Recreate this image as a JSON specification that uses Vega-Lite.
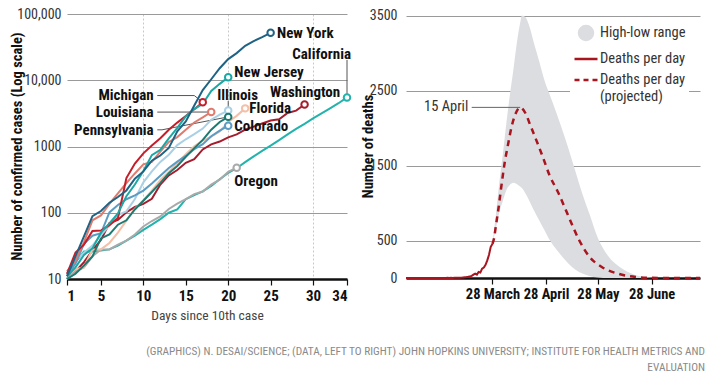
{
  "$schema": "https://vega.github.io/schema/vega-lite/v6.json",
  "padding": {"left": 8, "top": 7, "right": 5, "bottom": 5},
  "background": "white",
  "config": {
    "font": "'Liberation Sans Narrow', 'Roboto Condensed', 'Arial Narrow', sans-serif",
    "view": {"stroke": null},
    "axis": {"labelFont": "'Liberation Sans Narrow', 'Roboto Condensed', 'Arial Narrow', sans-serif", "titleFont": "'Liberation Sans Narrow', 'Roboto Condensed', 'Arial Narrow', sans-serif"},
    "legend": {"labelFont": "'Liberation Sans Narrow', 'Roboto Condensed', 'Arial Narrow', sans-serif"},
    "title": {"font": "'Liberation Sans Narrow', 'Roboto Condensed', 'Arial Narrow', sans-serif"}
  },
  "title": {
    "text": ["(GRAPHICS) N. DESAI/SCIENCE; (DATA, LEFT TO RIGHT) JOHN HOPKINS UNIVERSITY; INSTITUTE FOR HEALTH METRICS AND", "EVALUATION"],
    "orient": "bottom", "anchor": "end", "frame": "bounds", "align": "right",
    "fontSize": 11.3, "fontWeight": "normal", "color": "#8a8a8a", "lineHeight": 16, "offset": 24, "dx": 0
  },
  "datasets": {
    "cases": [
      {"state":"Washington","day":1,"cases":10},{"state":"Washington","day":2,"cases":13},{"state":"Washington","day":3,"cases":18},{"state":"Washington","day":4,"cases":27},{"state":"Washington","day":5,"cases":39},{"state":"Washington","day":6,"cases":70},{"state":"Washington","day":7,"cases":78},{"state":"Washington","day":8,"cases":102},{"state":"Washington","day":9,"cases":122},{"state":"Washington","day":10,"cases":136},{"state":"Washington","day":11,"cases":162},{"state":"Washington","day":12,"cases":267},{"state":"Washington","day":13,"cases":366},{"state":"Washington","day":14,"cases":442},{"state":"Washington","day":15,"cases":568},{"state":"Washington","day":16,"cases":642},{"state":"Washington","day":17,"cases":904},{"state":"Washington","day":18,"cases":1076},{"state":"Washington","day":19,"cases":1187},{"state":"Washington","day":20,"cases":1376},{"state":"Washington","day":21,"cases":1524},{"state":"Washington","day":22,"cases":1793},{"state":"Washington","day":23,"cases":1996},{"state":"Washington","day":24,"cases":2221},{"state":"Washington","day":25,"cases":2469},{"state":"Washington","day":26,"cases":2580},{"state":"Washington","day":27,"cases":3207},{"state":"Washington","day":28,"cases":3477},{"state":"Washington","day":29,"cases":4310},
      {"state":"California","day":1,"cases":10},{"state":"California","day":2,"cases":18},{"state":"California","day":3,"cases":26},{"state":"California","day":4,"cases":26},{"state":"California","day":5,"cases":27},{"state":"California","day":6,"cases":28},{"state":"California","day":7,"cases":32},{"state":"California","day":8,"cases":38},{"state":"California","day":9,"cases":45},{"state":"California","day":10,"cases":55},{"state":"California","day":11,"cases":66},{"state":"California","day":12,"cases":80},{"state":"California","day":13,"cases":100},{"state":"California","day":14,"cases":112},{"state":"California","day":15,"cases":160},{"state":"California","day":16,"cases":185},{"state":"California","day":17,"cases":210},{"state":"California","day":18,"cases":255},{"state":"California","day":19,"cases":320},{"state":"California","day":20,"cases":400},{"state":"California","day":21,"cases":470},{"state":"California","day":22,"cases":580},{"state":"California","day":23,"cases":710},{"state":"California","day":24,"cases":860},{"state":"California","day":25,"cases":1030},{"state":"California","day":26,"cases":1250},{"state":"California","day":27,"cases":1520},{"state":"California","day":28,"cases":1850},{"state":"California","day":29,"cases":2200},{"state":"California","day":30,"cases":2650},{"state":"California","day":31,"cases":3150},{"state":"California","day":32,"cases":3750},{"state":"California","day":33,"cases":4500},{"state":"California","day":34,"cases":5500},
      {"state":"Oregon","day":1,"cases":10},{"state":"Oregon","day":2,"cases":13},{"state":"Oregon","day":3,"cases":15},{"state":"Oregon","day":4,"cases":22},{"state":"Oregon","day":5,"cases":28},{"state":"Oregon","day":6,"cases":28},{"state":"Oregon","day":7,"cases":33},{"state":"Oregon","day":8,"cases":38},{"state":"Oregon","day":9,"cases":47},{"state":"Oregon","day":10,"cases":62},{"state":"Oregon","day":11,"cases":75},{"state":"Oregon","day":12,"cases":88},{"state":"Oregon","day":13,"cases":114},{"state":"Oregon","day":14,"cases":137},{"state":"Oregon","day":15,"cases":161},{"state":"Oregon","day":16,"cases":191},{"state":"Oregon","day":17,"cases":209},{"state":"Oregon","day":18,"cases":266},{"state":"Oregon","day":19,"cases":316},{"state":"Oregon","day":20,"cases":414},{"state":"Oregon","day":21,"cases":479},
      {"state":"Florida","day":1,"cases":12},{"state":"Florida","day":2,"cases":14},{"state":"Florida","day":3,"cases":15},{"state":"Florida","day":4,"cases":28},{"state":"Florida","day":5,"cases":28},{"state":"Florida","day":6,"cases":35},{"state":"Florida","day":7,"cases":50},{"state":"Florida","day":8,"cases":76},{"state":"Florida","day":9,"cases":115},{"state":"Florida","day":10,"cases":155},{"state":"Florida","day":11,"cases":216},{"state":"Florida","day":12,"cases":314},{"state":"Florida","day":13,"cases":417},{"state":"Florida","day":14,"cases":563},{"state":"Florida","day":15,"cases":763},{"state":"Florida","day":16,"cases":1004},{"state":"Florida","day":17,"cases":1227},{"state":"Florida","day":18,"cases":1412},{"state":"Florida","day":19,"cases":1682},{"state":"Florida","day":20,"cases":2355},{"state":"Florida","day":21,"cases":2900},{"state":"Florida","day":22,"cases":3763},
      {"state":"Illinois","day":1,"cases":11},{"state":"Illinois","day":2,"cases":19},{"state":"Illinois","day":3,"cases":25},{"state":"Illinois","day":4,"cases":32},{"state":"Illinois","day":5,"cases":46},{"state":"Illinois","day":6,"cases":64},{"state":"Illinois","day":7,"cases":93},{"state":"Illinois","day":8,"cases":105},{"state":"Illinois","day":9,"cases":161},{"state":"Illinois","day":10,"cases":288},{"state":"Illinois","day":11,"cases":422},{"state":"Illinois","day":12,"cases":585},{"state":"Illinois","day":13,"cases":753},{"state":"Illinois","day":14,"cases":1049},{"state":"Illinois","day":15,"cases":1285},{"state":"Illinois","day":16,"cases":1537},{"state":"Illinois","day":17,"cases":1865},{"state":"Illinois","day":18,"cases":2538},{"state":"Illinois","day":19,"cases":3024},{"state":"Illinois","day":20,"cases":3491},
      {"state":"Colorado","day":1,"cases":12},{"state":"Colorado","day":2,"cases":17},{"state":"Colorado","day":3,"cases":34},{"state":"Colorado","day":4,"cases":45},{"state":"Colorado","day":5,"cases":49},{"state":"Colorado","day":6,"cases":101},{"state":"Colorado","day":7,"cases":131},{"state":"Colorado","day":8,"cases":160},{"state":"Colorado","day":9,"cases":183},{"state":"Colorado","day":10,"cases":216},{"state":"Colorado","day":11,"cases":277},{"state":"Colorado","day":12,"cases":363},{"state":"Colorado","day":13,"cases":475},{"state":"Colorado","day":14,"cases":591},{"state":"Colorado","day":15,"cases":720},{"state":"Colorado","day":16,"cases":912},{"state":"Colorado","day":17,"cases":1086},{"state":"Colorado","day":18,"cases":1430},{"state":"Colorado","day":19,"cases":1734},{"state":"Colorado","day":20,"cases":2061},
      {"state":"Pennsylvania","day":1,"cases":10},{"state":"Pennsylvania","day":2,"cases":12},{"state":"Pennsylvania","day":3,"cases":16},{"state":"Pennsylvania","day":4,"cases":22},{"state":"Pennsylvania","day":5,"cases":41},{"state":"Pennsylvania","day":6,"cases":47},{"state":"Pennsylvania","day":7,"cases":66},{"state":"Pennsylvania","day":8,"cases":77},{"state":"Pennsylvania","day":9,"cases":112},{"state":"Pennsylvania","day":10,"cases":152},{"state":"Pennsylvania","day":11,"cases":206},{"state":"Pennsylvania","day":12,"cases":283},{"state":"Pennsylvania","day":13,"cases":396},{"state":"Pennsylvania","day":14,"cases":509},{"state":"Pennsylvania","day":15,"cases":698},{"state":"Pennsylvania","day":16,"cases":946},{"state":"Pennsylvania","day":17,"cases":1260},{"state":"Pennsylvania","day":18,"cases":1795},{"state":"Pennsylvania","day":19,"cases":2345},{"state":"Pennsylvania","day":20,"cases":2800},
      {"state":"Louisiana","day":1,"cases":13},{"state":"Louisiana","day":2,"cases":19},{"state":"Louisiana","day":3,"cases":36},{"state":"Louisiana","day":4,"cases":77},{"state":"Louisiana","day":5,"cases":91},{"state":"Louisiana","day":6,"cases":136},{"state":"Louisiana","day":7,"cases":196},{"state":"Louisiana","day":8,"cases":280},{"state":"Louisiana","day":9,"cases":392},{"state":"Louisiana","day":10,"cases":538},{"state":"Louisiana","day":11,"cases":585},{"state":"Louisiana","day":12,"cases":837},{"state":"Louisiana","day":13,"cases":1172},{"state":"Louisiana","day":14,"cases":1388},{"state":"Louisiana","day":15,"cases":1795},{"state":"Louisiana","day":16,"cases":2304},{"state":"Louisiana","day":17,"cases":2746},{"state":"Louisiana","day":18,"cases":3315},
      {"state":"Michigan","day":1,"cases":12},{"state":"Michigan","day":2,"cases":25},{"state":"Michigan","day":3,"cases":33},{"state":"Michigan","day":4,"cases":53},{"state":"Michigan","day":5,"cases":54},{"state":"Michigan","day":6,"cases":65},{"state":"Michigan","day":7,"cases":83},{"state":"Michigan","day":8,"cases":334},{"state":"Michigan","day":9,"cases":552},{"state":"Michigan","day":10,"cases":788},{"state":"Michigan","day":11,"cases":1037},{"state":"Michigan","day":12,"cases":1329},{"state":"Michigan","day":13,"cases":1793},{"state":"Michigan","day":14,"cases":2296},{"state":"Michigan","day":15,"cases":2878},{"state":"Michigan","day":16,"cases":3657},{"state":"Michigan","day":17,"cases":4650},
      {"state":"New Jersey","day":1,"cases":11},{"state":"New Jersey","day":2,"cases":15},{"state":"New Jersey","day":3,"cases":23},{"state":"New Jersey","day":4,"cases":29},{"state":"New Jersey","day":5,"cases":50},{"state":"New Jersey","day":6,"cases":69},{"state":"New Jersey","day":7,"cases":98},{"state":"New Jersey","day":8,"cases":178},{"state":"New Jersey","day":9,"cases":267},{"state":"New Jersey","day":10,"cases":427},{"state":"New Jersey","day":11,"cases":742},{"state":"New Jersey","day":12,"cases":890},{"state":"New Jersey","day":13,"cases":1327},{"state":"New Jersey","day":14,"cases":1914},{"state":"New Jersey","day":15,"cases":2844},{"state":"New Jersey","day":16,"cases":3675},{"state":"New Jersey","day":17,"cases":4402},{"state":"New Jersey","day":18,"cases":6876},{"state":"New Jersey","day":19,"cases":8825},{"state":"New Jersey","day":20,"cases":11124},
      {"state":"New York","day":1,"cases":11},{"state":"New York","day":2,"cases":22},{"state":"New York","day":3,"cases":44},{"state":"New York","day":4,"cases":89},{"state":"New York","day":5,"cases":106},{"state":"New York","day":6,"cases":142},{"state":"New York","day":7,"cases":173},{"state":"New York","day":8,"cases":217},{"state":"New York","day":9,"cases":326},{"state":"New York","day":10,"cases":421},{"state":"New York","day":11,"cases":610},{"state":"New York","day":12,"cases":732},{"state":"New York","day":13,"cases":950},{"state":"New York","day":14,"cases":1700},{"state":"New York","day":15,"cases":2382},{"state":"New York","day":16,"cases":4152},{"state":"New York","day":17,"cases":7102},{"state":"New York","day":18,"cases":10356},{"state":"New York","day":19,"cases":15168},{"state":"New York","day":20,"cases":20875},{"state":"New York","day":21,"cases":25665},{"state":"New York","day":22,"cases":33066},{"state":"New York","day":23,"cases":38987},{"state":"New York","day":24,"cases":44635},{"state":"New York","day":25,"cases":52000}
    ],
    "leaders": [
      {"state":"Michigan","seq":1,"day":11.64,"cases":5875},{"state":"Michigan","seq":2,"day":16.0,"cases":5875},{"state":"Michigan","seq":3,"day":17,"cases":4650},
      {"state":"Louisiana","seq":1,"day":11.64,"cases":3305},{"state":"Louisiana","seq":2,"day":18,"cases":3315},
      {"state":"Pennsylvania","seq":1,"day":11.64,"cases":1786},{"state":"Pennsylvania","seq":2,"day":12.2,"cases":1786},{"state":"Pennsylvania","seq":3,"day":20,"cases":2800},
      {"state":"Illinois","seq":1,"day":20,"cases":4886},{"state":"Illinois","seq":2,"day":20,"cases":3491},
      {"state":"California","seq":1,"day":34,"cases":20300},{"state":"California","seq":2,"day":34,"cases":5500}
    ],
    "labels": [
      {"state":"New York","day":25.75,"cases":51300},
      {"state":"New Jersey","day":20.72,"cases":13520},
      {"state":"Illinois","day":21.1,"cases":6030},
      {"state":"Florida","day":22.49,"cases":3793},
      {"state":"Colorado","day":20.72,"cases":2005},
      {"state":"Washington","day":29.06,"cases":6760},
      {"state":"California","day":34.47,"cases":24780},
      {"state":"Oregon","day":20.72,"cases":297},
      {"state":"Michigan","day":11.21,"cases":6030},
      {"state":"Louisiana","day":11.21,"cases":3305},
      {"state":"Pennsylvania","day":11.21,"cases":1786}
    ],
    "actual": [
      {"date":"2020/02/07","deaths":0,"series":"Deaths per day"},{"date":"2020/02/28","deaths":0,"series":"Deaths per day"},{"date":"2020/02/29","deaths":1,"series":"Deaths per day"},{"date":"2020/03/01","deaths":1,"series":"Deaths per day"},{"date":"2020/03/02","deaths":4,"series":"Deaths per day"},{"date":"2020/03/03","deaths":1,"series":"Deaths per day"},{"date":"2020/03/04","deaths":3,"series":"Deaths per day"},{"date":"2020/03/05","deaths":1,"series":"Deaths per day"},{"date":"2020/03/06","deaths":3,"series":"Deaths per day"},{"date":"2020/03/07","deaths":2,"series":"Deaths per day"},{"date":"2020/03/08","deaths":3,"series":"Deaths per day"},{"date":"2020/03/09","deaths":4,"series":"Deaths per day"},{"date":"2020/03/10","deaths":5,"series":"Deaths per day"},{"date":"2020/03/11","deaths":8,"series":"Deaths per day"},{"date":"2020/03/12","deaths":10,"series":"Deaths per day"},{"date":"2020/03/13","deaths":12,"series":"Deaths per day"},{"date":"2020/03/14","deaths":16,"series":"Deaths per day"},{"date":"2020/03/15","deaths":22,"series":"Deaths per day"},{"date":"2020/03/16","deaths":28,"series":"Deaths per day"},{"date":"2020/03/17","deaths":44,"series":"Deaths per day"},{"date":"2020/03/18","deaths":58,"series":"Deaths per day"},{"date":"2020/03/19","deaths":45,"series":"Deaths per day"},{"date":"2020/03/20","deaths":80,"series":"Deaths per day"},{"date":"2020/03/21","deaths":72,"series":"Deaths per day"},{"date":"2020/03/22","deaths":125,"series":"Deaths per day"},{"date":"2020/03/23","deaths":140,"series":"Deaths per day"},{"date":"2020/03/24","deaths":175,"series":"Deaths per day"},{"date":"2020/03/25","deaths":235,"series":"Deaths per day"},{"date":"2020/03/26","deaths":310,"series":"Deaths per day"},{"date":"2020/03/27","deaths":415,"series":"Deaths per day"},{"date":"2020/03/28","deaths":455,"series":"Deaths per day"}
    ],
    "projected": [
      {"date":"2020/03/28","deaths":455},{"date":"2020/03/29","deaths":540},{"date":"2020/03/30","deaths":700},{"date":"2020/03/31","deaths":850},{"date":"2020/04/01","deaths":1020},{"date":"2020/04/02","deaths":1200},{"date":"2020/04/03","deaths":1370},{"date":"2020/04/04","deaths":1530},{"date":"2020/04/05","deaths":1660},{"date":"2020/04/06","deaths":1780},{"date":"2020/04/07","deaths":1900},{"date":"2020/04/08","deaths":2010},{"date":"2020/04/10","deaths":2170},{"date":"2020/04/12","deaths":2260},{"date":"2020/04/13","deaths":2275},{"date":"2020/04/14","deaths":2265},{"date":"2020/04/16","deaths":2200},{"date":"2020/04/19","deaths":2030},{"date":"2020/04/23","deaths":1800},{"date":"2020/04/26","deaths":1620},{"date":"2020/04/30","deaths":1370},{"date":"2020/05/05","deaths":1140},{"date":"2020/05/11","deaths":820},{"date":"2020/05/17","deaths":510},{"date":"2020/05/23","deaths":285},{"date":"2020/05/30","deaths":150},{"date":"2020/06/09","deaths":55},{"date":"2020/06/20","deaths":12},{"date":"2020/06/28","deaths":2},{"date":"2020/07/10","deaths":0},{"date":"2020/07/26","deaths":0}
    ],
    "band": [
      {"date":"2020/03/28","deaths":455,"high":455},{"date":"2020/03/30","deaths":660,"high":850},{"date":"2020/04/01","deaths":880,"high":1280},{"date":"2020/04/03","deaths":1030,"high":1650},{"date":"2020/04/05","deaths":1170,"high":2060},{"date":"2020/04/07","deaths":1240,"high":2430},{"date":"2020/04/09","deaths":1270,"high":2760},{"date":"2020/04/11","deaths":1255,"high":3120},{"date":"2020/04/13","deaths":1220,"high":3400},{"date":"2020/04/14","deaths":1200,"high":3500},{"date":"2020/04/16","deaths":1130,"high":3480},{"date":"2020/04/18","deaths":1044,"high":3380},{"date":"2020/04/21","deaths":900,"high":3130},{"date":"2020/04/24","deaths":770,"high":2890},{"date":"2020/04/27","deaths":640,"high":2640},{"date":"2020/04/30","deaths":510,"high":2450},{"date":"2020/05/04","deaths":380,"high":2200},{"date":"2020/05/07","deaths":295,"high":2000},{"date":"2020/05/11","deaths":190,"high":1720},{"date":"2020/05/15","deaths":111,"high":1420},{"date":"2020/05/19","deaths":60,"high":1120},{"date":"2020/05/23","deaths":28,"high":860},{"date":"2020/05/28","deaths":8,"high":530},{"date":"2020/06/03","deaths":0,"high":290},{"date":"2020/06/10","deaths":0,"high":140},{"date":"2020/06/18","deaths":0,"high":45},{"date":"2020/06/26","deaths":0,"high":8},{"date":"2020/07/05","deaths":0,"high":0},{"date":"2020/07/26","deaths":0,"high":0}
    ],
    "peak": [
      {"date":"2020/03/14","date2":"2020/03/16","end":"2020/04/13","deaths":2275,"text":"15 April"}
    ]
  },
  "hconcat": [
    {
      "width": 280,
      "height": 265,
      "encoding": {
        "x": {"field": "day", "type": "quantitative",
          "scale": {"domain": [1, 34], "nice": false, "zero": false},
          "axis": {"values": [1, 5, 10, 15, 20, 25, 30, 34], "title": "Days since 10th case",
            "titleFontSize": 13.5, "titleFontWeight": "normal", "titleColor": "#444", "titlePadding": 5,
            "labelFontSize": 15, "labelFontWeight": "bold", "labelColor": "#111", "labelPadding": 3,
            "domainColor": "#111", "domainWidth": 2.5, "tickColor": "#111", "tickSize": 6, "tickWidth": 1.2,
            "grid": true, "gridDash": [2, 2], "gridColor": "#c8c8c8", "gridWidth": 1,
            "gridOpacity": {"condition": {"test": "datum.value == 10 || datum.value == 20 || datum.value == 30", "value": 1}, "value": 0}}},
        "y": {"field": "cases", "type": "quantitative",
          "scale": {"type": "log", "domain": [10, 100000], "nice": false},
          "axis": {"values": [10, 100, 1000, 10000, 100000], "title": "Number of confirmed cases (Log scale)",
            "labelExpr": "datum.value >= 10000 ? format(datum.value, ',') : format(datum.value, 'd')",
            "labelFontSize": 14, "labelColor": "#333", "labelPadding": 6,
            "titleFontSize": 14.5, "titleFontWeight": "bold", "titleColor": "#111",
            "titleX": -50, "titleY": 132, "titleAngle": -90, "titleBaseline": "middle", "titleAlign": "center",
            "domain": false, "ticks": false, "grid": true, "gridColor": "#9a9a9a", "gridWidth": 1}}
      },
      "layer": [
        {"data": {"name": "leaders"}, "mark": {"type": "line", "color": "#555", "strokeWidth": 1},
         "encoding": {"detail": {"field": "state"}, "order": {"field": "seq"}}},
        {"data": {"name": "cases"}, "mark": {"type": "line", "strokeWidth": 2},
         "encoding": {"color": {"field": "state", "type": "nominal", "legend": null,
           "scale": {"domain": ["Washington","California","Oregon","Florida","Illinois","Colorado","Pennsylvania","Louisiana","Michigan","New Jersey","New York"],
                     "range": ["#a51d2d","#22b3ad","#a9a9a9","#f4bfa6","#a9d0e5","#5b9cc4","#1b7b72","#e07b6e","#c41e2a","#1aa8a4","#1f6384"]}}}},
        {"data": {"name": "cases"},
         "transform": [{"joinaggregate": [{"op": "max", "field": "day", "as": "maxday"}], "groupby": ["state"]}, {"filter": "datum.day == datum.maxday"}],
         "mark": {"type": "point", "filled": false, "fill": "white", "fillOpacity": 1, "strokeWidth": 2, "size": 42, "opacity": 1},
         "encoding": {"color": {"field": "state", "type": "nominal", "legend": null}}},
        {"data": {"name": "labels"}, "transform": [{"filter": "indexof(['New York','New Jersey','Florida','Colorado','Oregon'], datum.state) >= 0"}],
         "mark": {"type": "text", "align": "left", "baseline": "middle", "fontSize": 15, "fontWeight": "bold", "color": "#111"},
         "encoding": {"text": {"field": "state"}}},
        {"data": {"name": "labels"}, "transform": [{"filter": "indexof(['Michigan','Louisiana','Pennsylvania','California'], datum.state) >= 0"}],
         "mark": {"type": "text", "align": "right", "baseline": "middle", "fontSize": 15, "fontWeight": "bold", "color": "#111"},
         "encoding": {"text": {"field": "state"}}},
        {"data": {"name": "labels"}, "transform": [{"filter": "indexof(['Illinois','Washington'], datum.state) >= 0"}],
         "mark": {"type": "text", "align": "center", "baseline": "middle", "fontSize": 15, "fontWeight": "bold", "color": "#111"},
         "encoding": {"text": {"field": "state"}}}
      ]
    },
    {
      "width": 294,
      "height": 264,
      "encoding": {
        "x": {"field": "date", "type": "temporal",
          "scale": {"domain": [{"year": 2020, "month": 2, "date": 7}, {"year": 2020, "month": 7, "date": 26}], "nice": false},
          "axis": {"values": [{"year": 2020, "month": 3, "date": 28}, {"year": 2020, "month": 4, "date": 28}, {"year": 2020, "month": 5, "date": 28}, {"year": 2020, "month": 6, "date": 28}],
            "format": "%-d %B", "title": null, "grid": false,
            "labelFontSize": 14.5, "labelFontWeight": "bold", "labelColor": "#111", "labelPadding": 3,
            "domainColor": "#111", "domainWidth": 2.5, "tickColor": "#111", "tickSize": 6, "tickWidth": 1.2}},
        "y": {"field": "deaths", "type": "quantitative",
          "scale": {"domain": [0, 3520], "nice": false},
          "axis": {"values": [0, 500, 1500, 2500, 3500], "format": "d", "title": "Number of deaths",
            "labelFontSize": 14, "labelColor": "#333", "labelPadding": 9,
            "titleFontSize": 14.5, "titleFontWeight": "bold", "titleColor": "#111",
            "titleX": -38, "titleY": 132, "titleAngle": -90, "titleBaseline": "middle", "titleAlign": "center",
            "domain": false, "ticks": false, "grid": true, "gridColor": "#9a9a9a", "gridWidth": 1}},
        "color": {"field": "series", "type": "nominal",
          "scale": {"domain": ["High-low range", "Deaths per day", "Deaths per day (projected)"], "range": ["#dcdde0", "#a8151f", "#a8151f"]},
          "legend": {"orient": "none", "legendX": 164, "legendY": 3, "title": null, "fillColor": "white", "padding": 3,
            "labelFontSize": 14.5, "labelColor": "#333", "labelOffset": 1, "rowPadding": 1, "symbolSize": 529, "symbolStrokeWidth": 2.5,
            "symbolType": "stroke", "labelBaseline": "middle",
            "labelExpr": "datum.label == 'Deaths per day (projected)' ? ['Deaths per day', '(projected)'] : datum.label",
            "encode": {"symbols": {"update": {
              "shape": {"signal": "datum.value == 'High-low range' ? 'circle' : 'stroke'"},
              "size": {"signal": "datum.value == 'High-low range' ? 196 : 529"},
              "fill": {"signal": "datum.value == 'High-low range' ? '#dcdde0' : 'transparent'"},
              "stroke": {"signal": "datum.value == 'High-low range' ? 'transparent' : '#a8151f'"},
              "strokeDash": {"signal": "datum.value == 'Deaths per day (projected)' ? [5, 4] : []"},
              "strokeWidth": {"value": 2.5},
              "opacity": {"value": 1}
            }}}}}
      },
      "layer": [
        {"data": {"name": "band"}, "transform": [{"calculate": "'High-low range'", "as": "series"}],
         "mark": {"type": "area", "interpolate": "monotone", "opacity": 1},
         "encoding": {"y2": {"field": "high"}}},
        {"data": {"name": "projected"}, "transform": [{"calculate": "'Deaths per day (projected)'", "as": "series"}],
         "mark": {"type": "line", "interpolate": "monotone", "strokeWidth": 2.5, "strokeDash": [6, 5]}},
        {"data": {"name": "actual"},
         "mark": {"type": "line", "strokeWidth": 2}},
        {"data": {"name": "peak"},
         "mark": {"type": "rule", "color": "#666", "strokeWidth": 1},
         "encoding": {"x": {"field": "date2", "type": "temporal"}, "x2": {"field": "end"}, "color": null}},
        {"data": {"name": "peak"},
         "mark": {"type": "text", "align": "right", "baseline": "middle", "fontSize": 14.5, "color": "#333"},
         "encoding": {"text": {"field": "text"}, "color": null}}
      ]
    }
  ],
  "spacing": 59,
  "bounds": "flush",
  "resolve": {"scale": {"color": "independent", "x": "independent", "y": "independent"}, "legend": {"color": "independent"}}
}
